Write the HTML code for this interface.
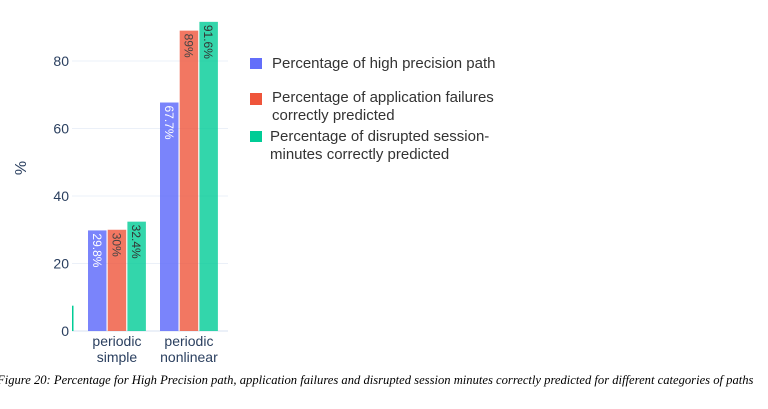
<!DOCTYPE html>
<html><head><meta charset="utf-8"><style>
body{margin:0;background:#fff;width:768px;height:404px;overflow:hidden;font-family:"Liberation Sans",sans-serif}
</style></head><body>
<svg id="chart" width="768" height="404" xmlns="http://www.w3.org/2000/svg">
<g id="grid"></g><g id="bars"></g><g id="labels"></g>
<text transform="translate(26,168) rotate(-90)" text-anchor="middle" font-size="16" fill="#2a3f5f">%</text>
<g font-size="15" fill="#333">
<rect x="250" y="58" width="12" height="11" fill="#636efa"/>
<text x="272" y="68">Percentage of high precision path</text>
<rect x="250" y="93" width="12" height="12" fill="#ef553b"/>
<text x="272" y="102">Percentage of application failures<tspan x="272" y="120">correctly predicted</tspan></text>
<rect x="250" y="131" width="12" height="11" fill="#00cc96"/>
<text x="270" y="141">Percentage of disrupted session-<tspan x="270" y="159">minutes correctly predicted</tspan></text>
</g>
<text x="-3" y="384" font-family="Liberation Serif,serif" font-style="italic" font-size="12.6" fill="#000">Figure 20: Percentage for High Precision path, application failures and disrupted session minutes correctly predicted for different categories of paths</text>
</svg>
<script>
const categories=[["periodic","simple"],["periodic","nonlinear"]];
const highPrecision=[29.8,67.7];
const appFailures=[30,89];
const sessionMinutes=[32.4,91.6];
const valueLabels=[["29.8%","67.7%"],["30%","89%"],["32.4%","91.6%"]];
const yTicks=[0,20,40,60,80];
const NS="http://www.w3.org/2000/svg";
const y0=331,pxPerUnit=3.375,plotL=72,plotR=228;
const yScale=v=>y0-v*pxPerUnit;
const catStart=[88,160],barW=18.5,barStep=19.7;
const xScale=(c,s)=>catStart[c]+s*barStep;
function mk(tag,attrs,parent){const e=document.createElementNS(NS,tag);for(const k in attrs)e.setAttribute(k,attrs[k]);parent.appendChild(e);return e;}
const grid=document.getElementById('grid'),bars=document.getElementById('bars'),labels=document.getElementById('labels');
yTicks.forEach(t=>{
  if(t>0){const l=mk('line',{x1:plotL,x2:plotR,y1:yScale(t),y2:yScale(t),stroke:'#ebf0f8','stroke-width':1},grid);
  
  }
  const tx=mk('text',{x:69,y:yScale(t)+5,'text-anchor':'end','font-size':14,fill:'#2a3f5f'},grid);
  tx.textContent=t;
  
  
});
const base=mk('line',{x1:plotL,x2:plotR,y1:y0,y2:y0,stroke:'#ebf0f8','stroke-width':2},grid);


const sliver=mk('rect',{x:72,y:yScale(7.5),width:1.5,height:7.5*pxPerUnit,fill:'#00cc96'},grid);


const series=[highPrecision,appFailures,sessionMinutes];
const colors=['#636efa','#ef553b','#00cc96'];
const opac=[0.85,0.8,0.8];
const txtCol=['#fff','#444','#333'];
series.forEach((arr,s)=>arr.forEach((v,c)=>{
  const x=xScale(c,s),y=yScale(v);
  const r=mk('rect',{x:x,y:y,width:barW,height:y0-y,fill:colors[s],'fill-opacity':opac[s]},bars);
  
  
  const t=mk('text',{transform:`translate(${x+barW/2-4.5},${y+3}) rotate(90)`,'font-size':12,fill:txtCol[s]},labels);
  t.textContent=valueLabels[s][c];
  
  
}));
categories.forEach((cat,c)=>{
  const cx=xScale(c,0)+(2*barStep+barW)/2;
  cat.forEach((line,i)=>{
    const t=mk('text',{x:cx,y:346+i*16,'text-anchor':'middle','font-size':14,fill:'#2a3f5f'},labels);
    t.textContent=line;
    
    
  });
});
</script>
</body></html>
